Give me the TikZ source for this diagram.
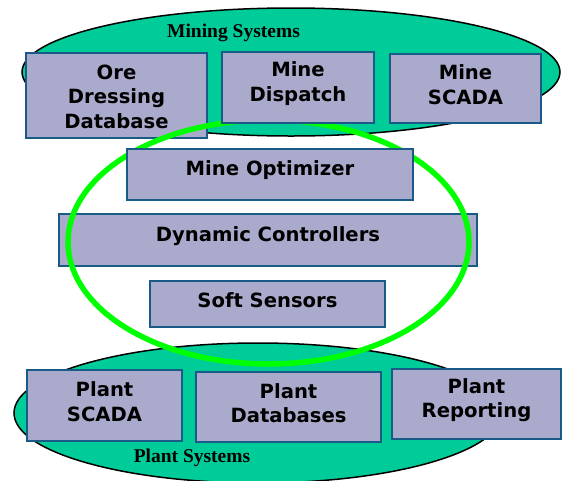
\documentclass[tikz,border=0pt]{standalone}
\usepackage{fontspec}
\newfontfamily\boxfont{DejaVu Sans}
\newfontfamily\sysfont{Liberation Serif}
\definecolor{sysfill}{RGB}{0,204,153}
\definecolor{boxfill}{RGB}{170,170,204}
\definecolor{boxline}{RGB}{25,90,135}
\definecolor{loopgreen}{RGB}{0,255,0}
\tikzset{
	sysarea/.style={fill=sysfill, draw=black, line width=1.5pt},
	sysbox/.style={fill=boxfill, draw=boxline, line width=1.5pt, shape=rectangle, inner sep=0pt},
	boxtext/.style={font=\boxfont\bfseries\fontsize{19.6}{24.5}\selectfont, align=center, yshift=4pt},
	syslabel/.style={font=\sysfont\bfseries\fontsize{19.5}{22}\selectfont}
}
\begin{document}
\begin{tikzpicture}[x=1pt, y=-1pt]
		\useasboundingbox (0, 0) rectangle (562, 480);
		% system areas
		\draw[sysarea] (291, 72) ellipse [x radius=269, y radius=64];
		\draw[sysarea] (258, 413) ellipse [x radius=244, y radius=70];
		\node [syslabel] (mining) at (233.5, 33) {Mining Systems};
		\node [syslabel] (plant) at (192, 458) {Plant Systems};
		\node [sysbox, minimum width=181, minimum height=85, label={[boxtext, yshift=-5pt]center:Ore\\Dressing\\Database}] (ore) at (116.5, 95.5) {};
		\node [sysbox, minimum width=418, minimum height=52, label={[boxtext]center:Dynamic Controllers}] (controllers) at (268, 240) {};
		\node [sysbox, minimum width=235, minimum height=46, label={[boxtext]center:Soft Sensors}] (sensors) at (267.5, 304) {};
		% control loop
		\draw[draw=loopgreen, line width=5.5pt] (268.5, 242) ellipse [x radius=200.5, y radius=122];
		\node [sysbox, minimum width=286, minimum height=51, label={[boxtext]center:Mine Optimizer}] (optimizer) at (270, 174.5) {};
		\node [sysbox, minimum width=152, minimum height=71, label={[boxtext]center:Mine\\Dispatch}] (dispatch) at (298, 87.5) {};
		\node [sysbox, minimum width=151, minimum height=69, label={[boxtext]center:Mine\\SCADA}] (scada) at (465.5, 88.5) {};
		\node [sysbox, minimum width=155, minimum height=71, label={[boxtext]center:Plant\\SCADA}] (pscada) at (104.5, 405.5) {};
		\node [sysbox, minimum width=185, minimum height=70, label={[boxtext]center:Plant\\Databases}] (pdb) at (288.5, 407) {};
		\node [sysbox, minimum width=169, minimum height=70, label={[boxtext]center:Plant\\Reporting}] (preport) at (476.5, 404) {};
	\end{tikzpicture}
\end{document}
